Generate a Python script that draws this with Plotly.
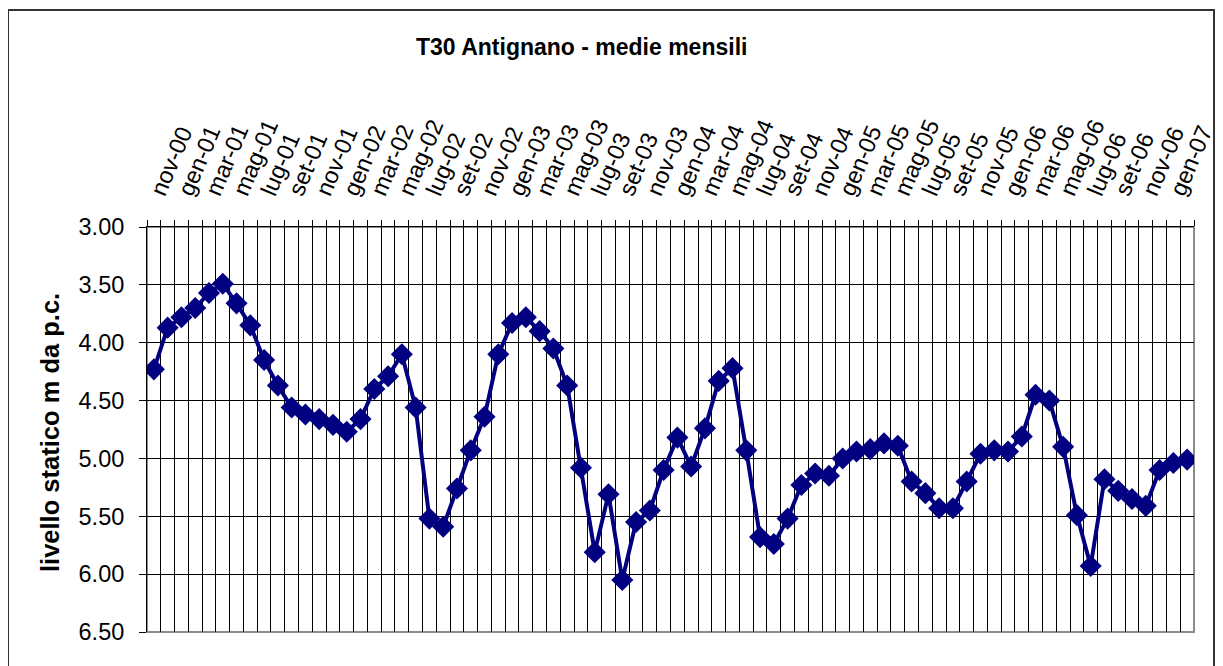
import plotly.graph_objects as go

months = [
    "nov-00", "dic-00",
    "gen-01", "feb-01", "mar-01", "apr-01", "mag-01", "giu-01", "lug-01", "ago-01", "set-01", "ott-01", "nov-01", "dic-01",
    "gen-02", "feb-02", "mar-02", "apr-02", "mag-02", "giu-02", "lug-02", "ago-02", "set-02", "ott-02", "nov-02", "dic-02",
    "gen-03", "feb-03", "mar-03", "apr-03", "mag-03", "giu-03", "lug-03", "ago-03", "set-03", "ott-03", "nov-03", "dic-03",
    "gen-04", "feb-04", "mar-04", "apr-04", "mag-04", "giu-04", "lug-04", "ago-04", "set-04", "ott-04", "nov-04", "dic-04",
    "gen-05", "feb-05", "mar-05", "apr-05", "mag-05", "giu-05", "lug-05", "ago-05", "set-05", "ott-05", "nov-05", "dic-05",
    "gen-06", "feb-06", "mar-06", "apr-06", "mag-06", "giu-06", "lug-06", "ago-06", "set-06", "ott-06", "nov-06", "dic-06",
    "gen-07", "feb-07",
]

livello = [
    4.23, 3.87,
    3.78, 3.70, 3.57, 3.49, 3.66, 3.85, 4.15, 4.37, 4.56, 4.62, 4.66, 4.71,
    4.77, 4.66, 4.40, 4.29, 4.10, 4.56, 5.52, 5.59, 5.26, 4.93, 4.64, 4.10,
    3.83, 3.78, 3.90, 4.05, 4.37, 5.08, 5.81, 5.31, 6.05, 5.55, 5.45, 5.10,
    4.82, 5.07, 4.74, 4.33, 4.22, 4.93, 5.68, 5.74, 5.52, 5.23, 5.13, 5.15,
    5.00, 4.94, 4.92, 4.87, 4.89, 5.20, 5.30, 5.43, 5.43, 5.20, 4.96, 4.93,
    4.94, 4.81, 4.45, 4.50, 4.90, 5.49, 5.93, 5.18, 5.28, 5.35, 5.41, 5.10,
    5.04, 5.01,
]

title_text = "T30 Antignano - medie mensili"
y_title = "livello statico m da p.c."

# page body has an 8px default margin: work in page pixels, offset by 8
OFF = 8
W, H = 1223 - OFF, 666 - OFF
L, R, T, B = 147 - OFF, 29, 227 - OFF, 34
pw, ph = W - L - R, H - T - B


def px_x(px):
    return (px - OFF - L) / pw


def px_y(py):
    return (H - B - (py - OFF)) / ph


x = list(range(len(months)))

fig = go.Figure(
    go.Scatter(
        x=x,
        y=livello,
        mode="lines+markers",
        line=dict(color="#000080", width=4),
        marker=dict(symbol="diamond", size=17, color="#000080"),
        hoverinfo="skip",
    )
)

font_fam = "Arial, Liberation Sans, sans-serif"

fig.update_layout(
    width=W,
    height=H,
    margin=dict(l=L, r=R, t=T, b=B),
    paper_bgcolor="white",
    plot_bgcolor="white",
    showlegend=False,
    font=dict(family=font_fam, color="black"),
)

fig.update_xaxes(
    side="top",
    range=[-0.5, len(months) - 0.5],
    tickmode="array",
    tickvals=x[::2],
    ticktext=months[::2],
    tickangle=-67,
    tickfont=dict(size=23.5, family=font_fam, color="black"),
    showgrid=False,
    ticks="",
    showline=True,
    linecolor="black",
    linewidth=1,
    zeroline=False,
    automargin=False,
    ticklabelstandoff=12,
    minor=dict(
        tick0=0.5,
        dtick=1,
        showgrid=True,
        gridcolor="black",
        gridwidth=1,
        ticks="outside",
        ticklen=6,
        tickcolor="black",
    ),
)

fig.update_yaxes(
    range=[6.5, 3.0],
    tickmode="linear",
    tick0=3.0,
    dtick=0.5,
    tickformat=".2f",
    tickfont=dict(size=23.5, family=font_fam, color="black"),
    showgrid=True,
    gridcolor="black",
    gridwidth=1,
    ticks="outside",
    ticklen=7,
    tickcolor="black",
    showline=True,
    linecolor="black",
    linewidth=1,
    zeroline=False,
    automargin=False,
    ticklabelstandoff=10,
)

fig.add_shape(
    type="rect", xref="paper", yref="paper", x0=0, x1=1, y0=0, y1=1,
    line=dict(color="#8c8c8c", width=2), layer="between",
)
fig.add_shape(
    type="rect", xref="paper", yref="paper",
    x0=px_x(8), x1=px_x(1214), y0=px_y(700), y1=px_y(10),
    line=dict(color="#333333", width=2), layer="above",
)

fig.add_annotation(
    text="<b>" + title_text + "</b>", xref="paper", yref="paper",
    x=px_x(581), y=px_y(47), showarrow=False,
    font=dict(size=23, family=font_fam, color="black"),
    xanchor="center", yanchor="middle",
)
fig.add_annotation(
    text="<b>" + y_title + "</b>", xref="paper", yref="paper",
    x=px_x(50), y=px_y(433), showarrow=False, textangle=-90,
    font=dict(size=25.5, family=font_fam, color="black"),
    xanchor="center", yanchor="middle",
)

fig.write_html("out.html")
